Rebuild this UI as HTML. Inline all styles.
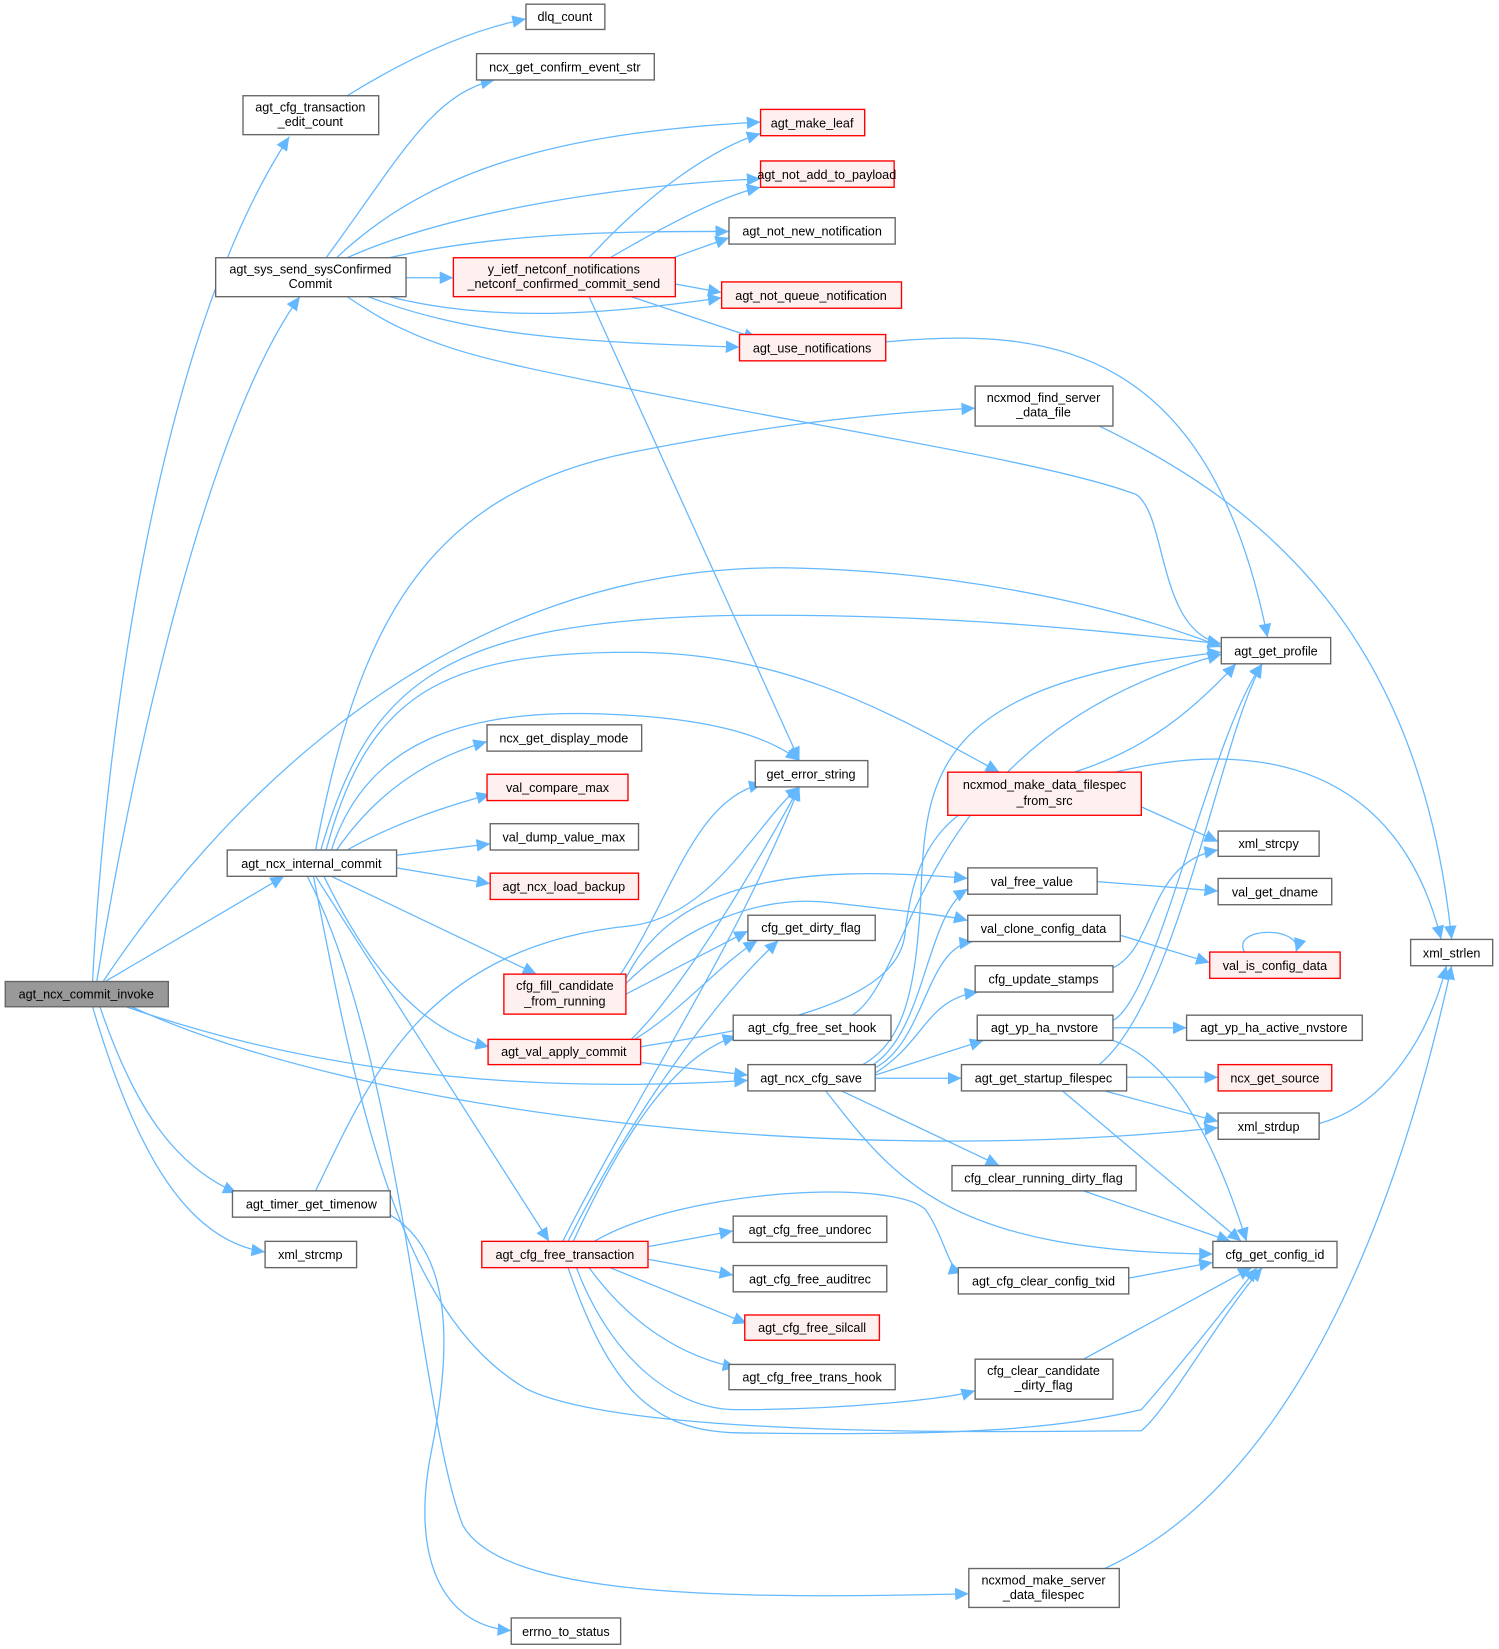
<!DOCTYPE html>
<html><head><meta charset="utf-8"><style>
html,body{margin:0;padding:0;background:#fff;}
svg{display:block;}
text{font-family:"Liberation Sans",Arial,sans-serif;font-size:12px;fill:#000;text-anchor:middle;}
.n{fill:#fff;stroke:#666;stroke-width:1.3;}
.r{fill:#fff0f0;stroke:#ff0000;stroke-width:1.3;}
.g{fill:#999;stroke:#666;stroke-width:1.3;}
.e{fill:none;stroke:#63b8ff;stroke-width:1.2;}
</style></head><body>
<svg width="1499" height="1649" viewBox="0 0 1425 1567.5" preserveAspectRatio="none" xmlns="http://www.w3.org/2000/svg">
<defs><marker id="a" markerUnits="userSpaceOnUse" markerWidth="14" markerHeight="12" refX="13" refY="6" orient="auto"><path d="M0,0 L13,6 L0,12 z" fill="#63b8ff"/></marker></defs>
<g class="e" marker-end="url(#a)">
<path d="M88,933 C100,700 150,320 275,130"/>
<path d="M92,933 C130,700 200,400 285,282"/>
<path d="M98,933 C200,780 420,530 760,540 C950,545 1100,590 1161,615"/>
<path d="M100,933 L270,833"/>
<path d="M120,957 C300,1020 500,1040 711,1027"/>
<path d="M125,957 C350,1060 800,1110 1158,1072"/>
<path d="M95,957 C130,1060 170,1110 225,1134"/>
<path d="M88,957 C130,1100 180,1180 252,1190"/>
<path d="M330,91 C380,60 440,30 500,18"/>
<path d="M310,245 C380,150 410,90 470,76"/>
<path d="M320,245 C420,150 560,125 723,116"/>
<path d="M330,245 C430,200 600,175 723,170"/>
<path d="M370,245 C480,220 600,220 693,220"/>
<path d="M386,264 L431,264"/>
<path d="M370,282 C480,310 600,295 686,283"/>
<path d="M350,282 C450,320 550,325 703,330"/>
<path d="M330,282 C400,330 450,340 600,370 C800,410 1000,440 1080,470 C1110,490 1100,600 1161,612"/>
<path d="M560,245 C620,180 680,140 723,127"/>
<path d="M580,245 C640,210 690,185 723,178"/>
<path d="M640,245 L693,226"/>
<path d="M642,270 L686,278"/>
<path d="M600,282 L720,322"/>
<path d="M560,282 L760,723"/>
<path d="M842,325 C1000,310 1150,330 1205,606"/>
<path d="M1045,405 C1200,480 1350,600 1380,893"/>
<path d="M300,808 C340,600 400,470 600,430 C750,400 850,392 927,388"/>
<path d="M305,808 C350,650 420,590 700,585 C900,583 1050,600 1161,612"/>
<path d="M310,808 C350,660 420,620 600,620 C750,620 850,680 950,734"/>
<path d="M315,808 C350,700 450,670 600,680 C680,685 730,700 760,723"/>
<path d="M320,808 C360,750 410,720 463,705"/>
<path d="M330,808 C380,780 430,765 466,755"/>
<path d="M377,813 L466,802"/>
<path d="M377,825 L466,840"/>
<path d="M315,833 L510,926"/>
<path d="M308,833 C350,920 400,980 465,995"/>
<path d="M300,833 L522,1180"/>
<path d="M298,833 C340,1050 380,1250 500,1320 C600,1370 1000,1360 1085,1360 C1110,1340 1160,1250 1200,1205"/>
<path d="M292,833 C380,1000 400,1350 440,1450 C480,1520 700,1520 921,1515"/>
<path d="M371,1155 C430,1190 430,1280 410,1380 C390,1480 420,1545 486,1550"/>
<path d="M300,1132 C350,1030 400,900 600,880 C680,870 720,780 760,748"/>
<path d="M590,926 C640,850 660,760 725,745"/>
<path d="M595,930 C640,840 750,820 920,835"/>
<path d="M595,935 C650,880 720,850 790,858 C850,865 900,870 920,875"/>
<path d="M595,945 L711,885"/>
<path d="M600,988 C650,940 720,820 760,748"/>
<path d="M600,990 C650,960 680,920 720,894"/>
<path d="M609,995 C700,980 850,960 860,890 C870,800 900,760 1000,740 C1080,720 1130,680 1175,631"/>
<path d="M609,1010 L711,1022"/>
<path d="M820,1012 C860,990 870,940 875,860 C880,740 880,650 1161,620"/>
<path d="M830,1012 C880,980 880,870 920,845"/>
<path d="M832,1015 C880,990 880,900 925,895"/>
<path d="M832,1020 C880,990 880,950 930,943"/>
<path d="M832,1022 L935,989"/>
<path d="M832,1025 L914,1025"/>
<path d="M800,1037 L950,1108"/>
<path d="M785,1037 C850,1120 900,1190 1153,1192"/>
<path d="M810,965 C870,930 870,700 1161,622"/>
<path d="M1043,838 L1158,847"/>
<path d="M1085,767 L1158,800"/>
<path d="M1060,734 C1200,700 1330,730 1370,893"/>
<path d="M1065,889 L1150,915"/>
<path d="M1183,905 C1170,880 1240,880 1232,905"/>
<path d="M1058,920 C1100,900 1090,820 1158,808"/>
<path d="M1058,970 C1100,950 1150,700 1200,631"/>
<path d="M1058,977 L1128,977"/>
<path d="M1058,989 C1120,1010 1160,1100 1185,1180"/>
<path d="M1045,1012 C1120,950 1160,700 1200,631"/>
<path d="M1071,1024 L1158,1024"/>
<path d="M1050,1037 L1158,1066"/>
<path d="M1010,1037 L1180,1180"/>
<path d="M1254,1068 C1320,1050 1360,980 1375,918"/>
<path d="M1030,1132 L1170,1180"/>
<path d="M1073,1215 L1153,1200"/>
<path d="M1030,1292 L1190,1205"/>
<path d="M1050,1491 C1250,1400 1340,1100 1380,918"/>
<path d="M540,1180 C600,1060 680,950 740,894"/>
<path d="M545,1180 C600,1060 650,1000 700,985"/>
<path d="M535,1180 C600,1050 700,900 760,748"/>
<path d="M565,1180 C650,1130 850,1120 880,1150 C900,1180 900,1205 915,1210"/>
<path d="M616,1185 L697,1170"/>
<path d="M616,1197 L697,1212"/>
<path d="M580,1205 L710,1258"/>
<path d="M560,1205 C600,1260 650,1290 700,1300"/>
<path d="M548,1205 C580,1290 640,1340 700,1340 C800,1340 900,1330 927,1322"/>
<path d="M540,1205 C580,1320 620,1360 700,1362 C900,1365 1000,1360 1085,1340 C1120,1300 1160,1250 1195,1205"/>
</g>
<g>
<rect class="g" x="5" y="933" width="155" height="24"/><text x="82" y="949">agt_ncx_commit_invoke</text>
<rect class="n" x="500" y="4" width="75" height="24"/><text x="537" y="20">dlq_count</text>
<rect class="n" x="453" y="51" width="169" height="25"/><text x="537" y="68">ncx_get_confirm_event_str</text>
<rect class="n" x="231" y="91" width="129" height="37"/><text x="295" y="106">agt_cfg_transaction</text><text x="295" y="120">_edit_count</text>
<rect class="r" x="723" y="104" width="99" height="25"/><text x="772" y="121">agt_make_leaf</text>
<rect class="r" x="723" y="153" width="127" height="25"/><text x="786" y="170">agt_not_add_to_payload</text>
<rect class="n" x="693" y="207" width="158" height="25"/><text x="772" y="224">agt_not_new_notification</text>
<rect class="n" x="205" y="245" width="181" height="37"/><text x="295" y="260">agt_sys_send_sysConfirmed</text><text x="295" y="274">Commit</text>
<rect class="r" x="431" y="245" width="211" height="37"/><text x="536" y="260">y_ietf_netconf_notifications</text><text x="536" y="274">_netconf_confirmed_commit_send</text>
<rect class="r" x="686" y="268" width="171" height="25"/><text x="771" y="285">agt_not_queue_notification</text>
<rect class="r" x="703" y="318" width="139" height="25"/><text x="772" y="335">agt_use_notifications</text>
<rect class="n" x="927" y="367" width="131" height="38"/><text x="992" y="382">ncxmod_find_server</text><text x="992" y="396">_data_file</text>
<rect class="n" x="1161" y="606" width="104" height="25"/><text x="1213" y="623">agt_get_profile</text>
<rect class="n" x="463" y="689" width="147" height="25"/><text x="536" y="706">ncx_get_display_mode</text>
<rect class="n" x="718" y="723" width="107" height="25"/><text x="771" y="740">get_error_string</text>
<rect class="r" x="463" y="736" width="134" height="25"/><text x="530" y="753">val_compare_max</text>
<rect class="r" x="901" y="734" width="184" height="41"/><text x="993" y="750">ncxmod_make_data_filespec</text><text x="993" y="765">_from_src</text>
<rect class="n" x="466" y="783" width="141" height="25"/><text x="536" y="800">val_dump_value_max</text>
<rect class="n" x="216" y="808" width="161" height="25"/><text x="296" y="825">agt_ncx_internal_commit</text>
<rect class="n" x="1158" y="790" width="96" height="24"/><text x="1206" y="806">xml_strcpy</text>
<rect class="n" x="920" y="825" width="123" height="25"/><text x="981" y="842">val_free_value</text>
<rect class="r" x="466" y="830" width="141" height="25"/><text x="536" y="847">agt_ncx_load_backup</text>
<rect class="n" x="1158" y="835" width="108" height="25"/><text x="1212" y="852">val_get_dname</text>
<rect class="n" x="711" y="870" width="121" height="24"/><text x="771" y="886">cfg_get_dirty_flag</text>
<rect class="n" x="920" y="870" width="145" height="25"/><text x="992" y="887">val_clone_config_data</text>
<rect class="n" x="1341" y="893" width="78" height="25"/><text x="1380" y="910">xml_strlen</text>
<rect class="r" x="1150" y="905" width="124" height="25"/><text x="1212" y="922">val_is_config_data</text>
<rect class="r" x="479" y="926" width="116" height="38"/><text x="537" y="941">cfg_fill_candidate</text><text x="537" y="956">_from_running</text>
<rect class="n" x="927" y="918" width="131" height="25"/><text x="992" y="935">cfg_update_stamps</text>
<rect class="n" x="697" y="965" width="150" height="24"/><text x="772" y="981">agt_cfg_free_set_hook</text>
<rect class="n" x="929" y="965" width="129" height="24"/><text x="993" y="981">agt_yp_ha_nvstore</text>
<rect class="n" x="1128" y="965" width="167" height="24"/><text x="1211" y="981">agt_yp_ha_active_nvstore</text>
<rect class="r" x="464" y="988" width="145" height="24"/><text x="536" y="1004">agt_val_apply_commit</text>
<rect class="n" x="711" y="1012" width="121" height="25"/><text x="771" y="1029">agt_ncx_cfg_save</text>
<rect class="n" x="914" y="1012" width="157" height="25"/><text x="992" y="1029">agt_get_startup_filespec</text>
<rect class="r" x="1158" y="1012" width="108" height="25"/><text x="1212" y="1029">ncx_get_source</text>
<rect class="n" x="1158" y="1058" width="96" height="25"/><text x="1206" y="1075">xml_strdup</text>
<rect class="n" x="905" y="1108" width="175" height="24"/><text x="992" y="1124">cfg_clear_running_dirty_flag</text>
<rect class="n" x="221" y="1132" width="150" height="25"/><text x="296" y="1149">agt_timer_get_timenow</text>
<rect class="n" x="697" y="1156" width="146" height="25"/><text x="770" y="1173">agt_cfg_free_undorec</text>
<rect class="n" x="252" y="1180" width="87" height="25"/><text x="295" y="1197">xml_strcmp</text>
<rect class="r" x="458" y="1180" width="158" height="25"/><text x="537" y="1197">agt_cfg_free_transaction</text>
<rect class="n" x="1153" y="1180" width="118" height="25"/><text x="1212" y="1197">cfg_get_config_id</text>
<rect class="n" x="911" y="1205" width="162" height="25"/><text x="992" y="1222">agt_cfg_clear_config_txid</text>
<rect class="n" x="697" y="1203" width="146" height="25"/><text x="770" y="1220">agt_cfg_free_auditrec</text>
<rect class="r" x="708" y="1250" width="128" height="24"/><text x="772" y="1266">agt_cfg_free_silcall</text>
<rect class="n" x="927" y="1292" width="131" height="38"/><text x="992" y="1307">cfg_clear_candidate</text><text x="992" y="1321">_dirty_flag</text>
<rect class="n" x="693" y="1297" width="158" height="24"/><text x="772" y="1313">agt_cfg_free_trans_hook</text>
<rect class="n" x="921" y="1491" width="143" height="37"/><text x="992" y="1506">ncxmod_make_server</text><text x="992" y="1520">_data_filespec</text>
<rect class="n" x="486" y="1538" width="104" height="25"/><text x="538" y="1555">errno_to_status</text>
</g>
</svg>
</body></html>
